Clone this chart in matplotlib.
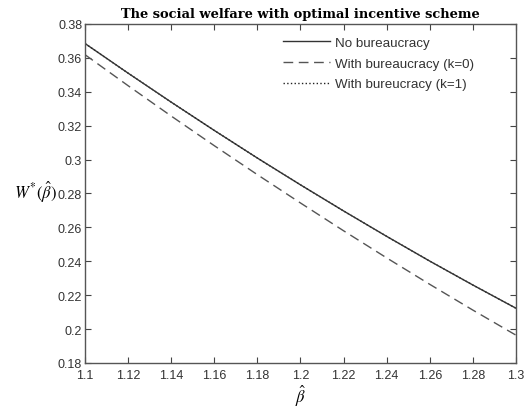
import numpy as np
import matplotlib.pyplot as plt

# data
beta = [1.10, 1.12, 1.14, 1.16, 1.18, 1.20, 1.22, 1.24, 1.26, 1.28, 1.30]
w_none = [0.3685, 0.3510, 0.3339, 0.3172, 0.3009, 0.2851, 0.2697, 0.2547, 0.2401, 0.2260, 0.2123]
w_k0 = [0.3619, 0.3436, 0.3257, 0.3082, 0.2911, 0.2744, 0.2580, 0.2420, 0.2264, 0.2112, 0.1964]
w_k1 = [0.3685, 0.3510, 0.3339, 0.3172, 0.3009, 0.2851, 0.2697, 0.2547, 0.2401, 0.2260, 0.2123]

xticks = [1.1, 1.12, 1.14, 1.16, 1.18, 1.2, 1.22, 1.24, 1.26, 1.28, 1.3]
xticklabels = ["1.1", "1.12", "1.14", "1.16", "1.18", "1.2", "1.22", "1.24", "1.26", "1.28", "1.3"]
yticks = [0.18, 0.2, 0.22, 0.24, 0.26, 0.28, 0.3, 0.32, 0.34, 0.36, 0.38]
yticklabels = ["0.18", "0.2", "0.22", "0.24", "0.26", "0.28", "0.3", "0.32", "0.34", "0.36", "0.38"]

plt.rcParams['font.family'] = ['Liberation Sans', 'DejaVu Sans']
plt.rcParams['mathtext.fontset'] = 'stix'

fig = plt.figure(figsize=(5.29, 4.10), dpi=100)
ax = fig.add_axes([85/529, 1 - 364/410, (516-85)/529, (364-25)/410])

ax.plot(beta, w_k1, color="#222222", linestyle=":", linewidth=1.0, label="With bureucracy (k=1)")
ax.plot(beta, w_none, color="#333333", linestyle="-", linewidth=1.0, label="No bureaucracy")
ax.plot(beta, w_k0, color="#555555", linestyle=(0, (7, 4)), linewidth=1.0, label="With bureaucracy (k=0)")

ax.set_xlim(1.1, 1.3)
ax.set_ylim(0.18, 0.38)
ax.set_xticks(xticks)
ax.set_xticklabels(xticklabels)
ax.set_yticks(yticks)
ax.set_yticklabels(yticklabels)
ax.tick_params(direction="in", length=4, top=True, right=True, labelsize=9,
               colors="#444444", labelcolor="#333333")
ax.tick_params(axis="x", pad=4)
ax.tick_params(axis="y", pad=2)
for s in ax.spines.values():
    s.set_color("#555555")
    s.set_linewidth(1.0)

handles, labels = ax.get_legend_handles_labels()
order = [1, 2, 0]
ax.legend([handles[i] for i in order], [labels[i] for i in order],
          loc="upper left", bbox_to_anchor=(0.448, 0.978), borderaxespad=0,
          frameon=False, fontsize=9.6, handlelength=3.5, labelspacing=0.62,
          handletextpad=0.4, labelcolor="#333333")

ax.set_title("The social welfare with optimal incentive scheme",
             family="DejaVu Serif", fontweight="bold", fontsize=9.4, pad=5)
ax.set_xlabel(r"$\hat{\beta}$", fontsize=12, labelpad=2)
ax.set_ylabel(r"$W^{*}(\hat{\beta})$", fontsize=12, rotation=0, labelpad=0)
ax.yaxis.set_label_coords(-0.114, 0.47)

fig.savefig("out.png", dpi=100)
